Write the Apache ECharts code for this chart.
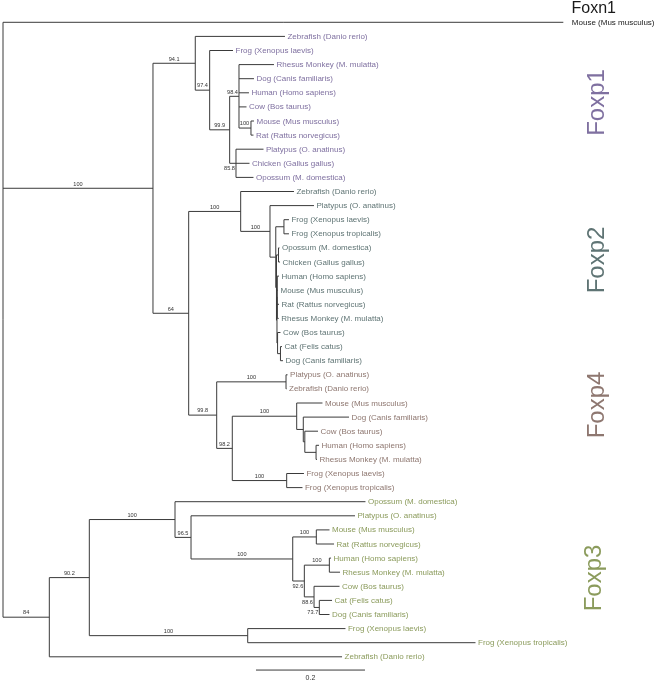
<!DOCTYPE html>
<html><head><meta charset="utf-8">
<script src="https://cdn.jsdelivr.net/npm/echarts@6/dist/echarts.min.js"></script>
<style>html,body{margin:0;padding:0;background:#fff}#chart{width:658px;height:683px}</style>
</head><body><div id="chart"></div>
<script>
// ---------- DATA ----------
const groupNames = ['Foxn1', 'Foxp1', 'Foxp2', 'Foxp4', 'Foxp3'];
const groupColors = ['#1a1a1a', '#7f70a0', '#5f7474', '#8e7770', '#8b9b5c'];

const leafNames = [
  'Mouse (Mus musculus)',
  'Zebrafish (Danio rerio)', 'Frog (Xenopus laevis)', 'Rhesus Monkey (M. mulatta)', 'Dog (Canis familiaris)',
  'Human (Homo sapiens)', 'Cow (Bos taurus)', 'Mouse (Mus musculus)', 'Rat (Rattus norvegicus)',
  'Platypus (O. anatinus)', 'Chicken (Gallus gallus)', 'Opossum (M. domestica)',
  'Zebrafish (Danio rerio)', 'Platypus (O. anatinus)', 'Frog (Xenopus laevis)', 'Frog (Xenopus tropicalis)',
  'Opossum (M. domestica)', 'Chicken (Gallus gallus)', 'Human (Homo sapiens)', 'Mouse (Mus musculus)',
  'Rat (Rattus norvegicus)', 'Rhesus Monkey (M. mulatta)', 'Cow (Bos taurus)', 'Cat (Felis catus)', 'Dog (Canis familiaris)',
  'Platypus (O. anatinus)', 'Zebrafish (Danio rerio)', 'Mouse (Mus musculus)', 'Dog (Canis familiaris)',
  'Cow (Bos taurus)', 'Human (Homo sapiens)', 'Rhesus Monkey (M. mulatta)', 'Frog (Xenopus laevis)', 'Frog (Xenopus tropicalis)',
  'Opossum (M. domestica)', 'Platypus (O. anatinus)', 'Mouse (Mus musculus)', 'Rat (Rattus norvegicus)',
  'Human (Homo sapiens)', 'Rhesus Monkey (M. mulatta)', 'Cow (Bos taurus)', 'Cat (Felis catus)',
  'Dog (Canis familiaris)', 'Frog (Xenopus laevis)', 'Frog (Xenopus tropicalis)', 'Zebrafish (Danio rerio)'
];
const leafGroup = [0,
  1,1,1,1,1,1,1,1,1,1,1,
  2,2,2,2,2,2,2,2,2,2,2,2,2,
  3,3,3,3,3,3,3,3,3,
  4,4,4,4,4,4,4,4,4,4,4,4];
const leafParent = ['root',
  'B','C','E','E','E','E','G','G','F','F','F',
  'I','K','M','M','O','O','Q','Q','Q','Q','R','S','S',
  'T','T','V','X','Z','Y','Y','W','W',
  'CC','EE','GG','GG','II','II','JJ','KK','KK','DD','DD','AA'];
const leafLength = [1.0281,
  0.1646,0.0428,0.0642,0.0275,0.0183,0.0138,0.0055,0.0046,0.0505,0.0248,0.0321,
  0.0978,0.0807,0.0092,0.0092,0.0018,0.0028,0.0031,0.0013,0.0031,0.0026,0.0053,0.0028,0.0046,
  0.0028,0.0009,0.0473,0.0839,0.0242,0.0055,0.0018,0.0317,0.0290,
  0.3495,0.3009,0.0242,0.0325,0.0031,0.0196,0.0468,0.0233,0.0187,0.1794,0.4180,0.5371];

const nodeIds = ['A','B','C','D','E','G','F',
  'H','I','K','L','M','N','O','P','Q','R','S',
  'J','T','U','V','X','Z','Y','W',
  'AA','BB','CC','EE','FF','GG','HH','II','JJ','KK','DD'];
const nodeParent = ['root','A','B','C','D','E','D',
  'A','H','I','K','L','L','N','N','P','P','R',
  'H','J','J','U','V','X','Z','U',
  'root','AA','BB','CC','EE','FF','FF','HH','HH','JJ','BB'];
const nodeLength = [0.2752,0.0776,0.0264,0.0367,0.0171,0.0220,0.0116,
  0.0655,0.0954,0.0538,0.0106,0.0150,0.0013,0.0037,0.0009,0.0006,0.0011,0.0053,
  0.0514,0.1272,0.0286,0.1182,0.0121,0.0028,0.0206,0.0998,
  0.0850,0.0734,0.1572,0.0294,0.1866,0.0433,0.0213,0.0459,0.0178,0.0097,0.2906];
const nodeSupport = [100,94.1,97.4,99.9,98.4,100,85.8,
  64,100,100,null,null,null,null,null,null,null,null,
  99.8,100,98.2,100,null,null,null,100,
  84,90.2,100,96.5,100,100,92.6,100,88.6,73.7,100];

const scaleBarLength = 0.2;
const scaleBarLabel = '0.2';

// ---------- STYLE / LAYOUT ----------
const supportBelow = ['F','HH','JJ','KK'];
const FONT = '"Liberation Sans", Arial, Helvetica, sans-serif';
const lineColor = '#3a3a3a';
const groupLabelPos = [null, [597, 102.5], [597, 260], [597, 405], [594, 578]];
const scaleBarPos = [0.4642, 45.94];

// ---------- TREE LAYOUT ----------
const xs = { root: 0 }, ys = {};
nodeIds.forEach((id, i) => { xs[id] = xs[nodeParent[i]] + nodeLength[i]; });
const leafX = leafLength.map((l, i) => xs[leafParent[i]] + l);
const kids = {};
const addKid = (p, y) => { (kids[p] = kids[p] || []).push(y); };
leafParent.forEach((p, i) => addKid(p, i));
for (let i = nodeIds.length - 1; i >= 0; i--) {
  const k = kids[nodeIds[i]];
  ys[nodeIds[i]] = (Math.min(...k) + Math.max(...k)) / 2;
  addKid(nodeParent[i], ys[nodeIds[i]]);
}
const segs = [];
leafParent.forEach((p, i) => segs.push([xs[p], i, leafX[i], i]));
nodeIds.forEach((id, i) => segs.push([xs[nodeParent[i]], ys[id], xs[id], ys[id]]));
['root'].concat(nodeIds).forEach(id => {
  const k = kids[id];
  segs.push([xs[id], Math.min(...k), xs[id], Math.max(...k)]);
});
const supportData = [];
nodeIds.forEach((id, i) => {
  if (nodeSupport[i] != null) supportData.push([xs[nodeParent[i]], xs[id], ys[id], nodeSupport[i], supportBelow.includes(id) ? 1 : 0]);
});
const leafData = leafX.map((x, i) => [x, i, leafGroup[i]]);

const chart = echarts.init(document.getElementById('chart'), null, { renderer: 'canvas' });
chart.setOption({
  animation: false,
  backgroundColor: '#fff',
  grid: { left: 3, top: 22.3, width: 654, height: 634.5 },
  xAxis: { type: 'value', min: 0, max: 1.2, show: false },
  yAxis: { type: 'value', min: 0, max: 45, inverse: true, show: false },
  series: [
    {
      type: 'custom', clip: false, data: segs,
      renderItem: (params, api) => {
        const a = api.coord([api.value(0), api.value(1)]);
        const b = api.coord([api.value(2), api.value(3)]);
        return { type: 'line', shape: { x1: a[0], y1: a[1], x2: b[0], y2: b[1] },
          style: { stroke: lineColor, lineWidth: 1 } };
      }
    },
    {
      type: 'custom', clip: false, data: supportData,
      renderItem: (params, api) => {
        const a = api.coord([api.value(0), api.value(2)]);
        const b = api.coord([api.value(1), api.value(2)]);
        let cx = (a[0] + b[0]) / 2;
        if (b[0] - a[0] < 16) cx = Math.min(cx, b[0] - 6.5);
        const below = api.value(4) === 1;
        return { type: 'text', x: cx, y: a[1] + (below ? 5.5 : -4.3),
          style: { text: String(api.value(3)), fill: '#333', fontSize: 5.6, fontFamily: FONT,
            align: 'center', verticalAlign: 'middle' } };
      }
    },
    {
      type: 'custom', clip: false, data: leafData,
      renderItem: (params, api) => {
        const p = api.coord([api.value(0), api.value(1)]);
        const g = api.value(2);
        return { type: 'text', x: p[0] + (g === 0 ? 8.5 : 2.5), y: p[1] + 0.3,
          style: { text: leafNames[params.dataIndex], fill: groupColors[g], fontSize: 8, fontFamily: FONT,
            align: 'left', verticalAlign: 'middle' } };
      }
    },
    {
      type: 'custom', clip: false, data: [[scaleBarPos[0], scaleBarPos[1], scaleBarLength]],
      renderItem: (params, api) => {
        const a = api.coord([api.value(0), api.value(1)]);
        const b = api.coord([api.value(0) + api.value(2), api.value(1)]);
        return { type: 'group', children: [
          { type: 'line', shape: { x1: a[0], y1: a[1], x2: b[0], y2: b[1] }, style: { stroke: lineColor, lineWidth: 1 } },
          { type: 'text', x: (a[0] + b[0]) / 2, y: a[1] + 8.5,
            style: { text: scaleBarLabel, fill: '#333', fontSize: 7, fontFamily: FONT, align: 'center', verticalAlign: 'middle' } }
        ] };
      }
    }
  ],
  graphic: [
    { type: 'text', x: 571.5, y: 9, style: { text: groupNames[0], fill: groupColors[0], fontSize: 16, fontFamily: FONT, align: 'left', verticalAlign: 'middle' } }
  ].concat([1, 2, 3, 4].map(g => ({
    type: 'text', x: groupLabelPos[g][0], y: groupLabelPos[g][1], rotation: Math.PI / 2,
    style: { text: groupNames[g], fill: groupColors[g], fontSize: 24, fontFamily: FONT, align: 'center', verticalAlign: 'middle' }
  })))
});
</script>
</body></html>
